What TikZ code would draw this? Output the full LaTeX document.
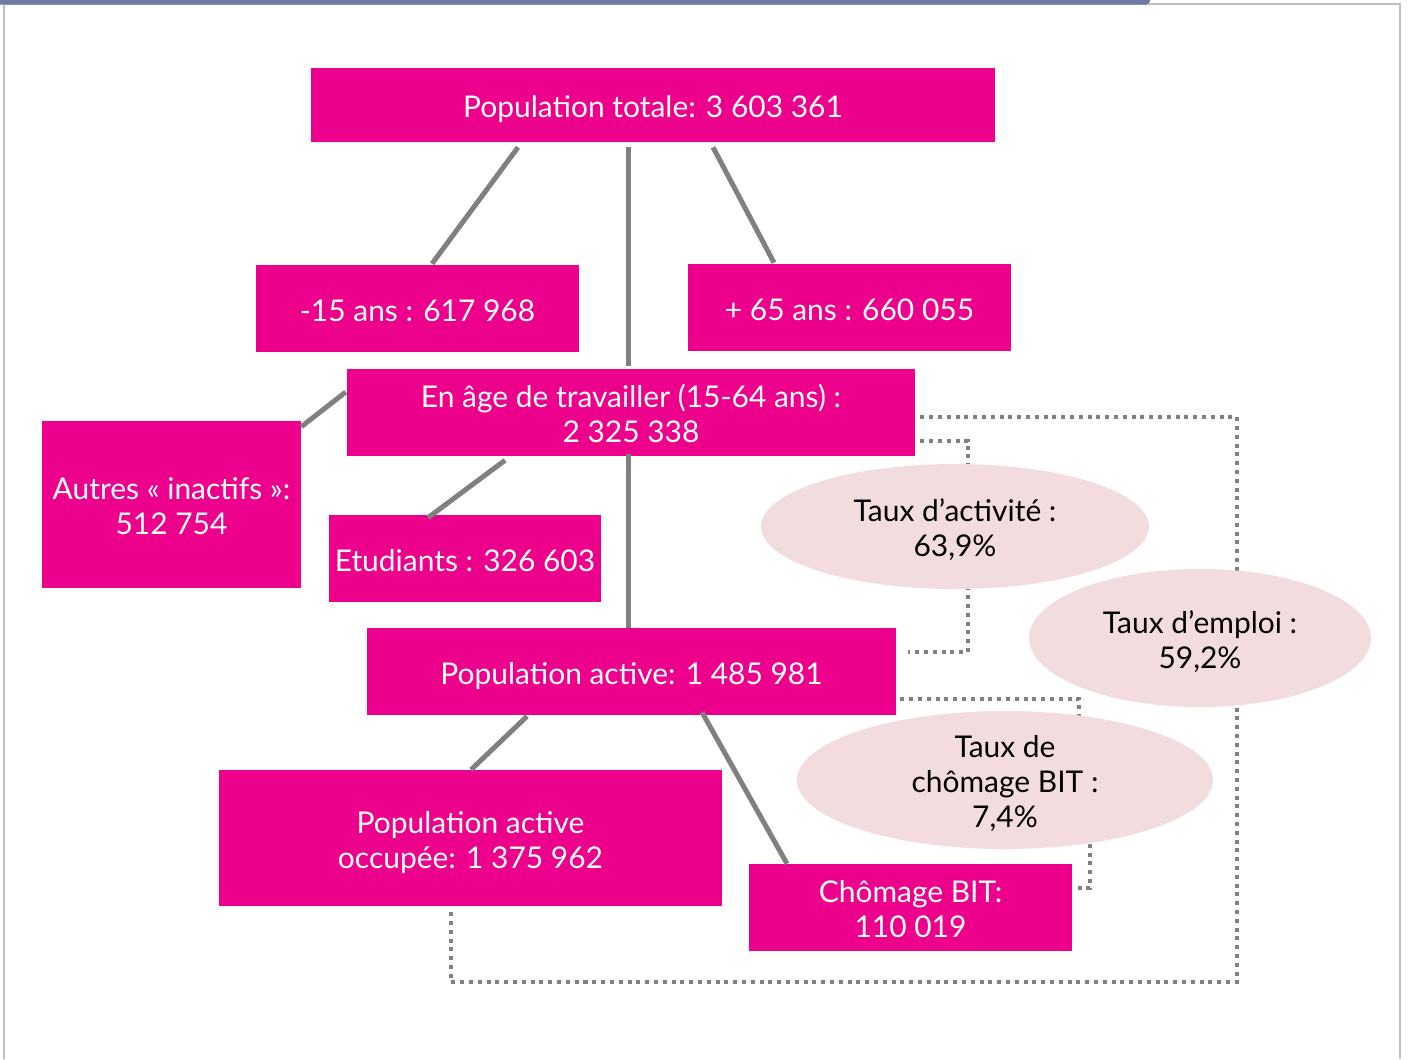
\documentclass[tikz,border=0pt]{standalone}
\usepackage{fontspec}
\setmainfont{Lato}
\usetikzlibrary{shapes.geometric,calc}
\definecolor{fuchsia}{HTML}{EC008C}
\definecolor{rosepale}{HTML}{F2DCDE}
\definecolor{liengris}{HTML}{808080}
\definecolor{barre}{HTML}{6F7AA6}
\definecolor{cadre}{HTML}{C0C0C0}
\begin{document}
\begin{tikzpicture}[x=0.25mm,y=-0.25mm,
    lignes/.style={execute at begin node={\rule{0pt}{\dimexpr22.5pt+\numexpr#1-1\relax\dimexpr24.9pt\relax\relax}}},
    texte/.style={align=center,inner sep=0pt,
      font=\fontsize{21.3}{24.9}\selectfont,lignes=1,
      execute at end node={\rule[-4.5pt]{0pt}{4.5pt}}},
    box/.style={texte,fill=fuchsia,text=white},
    bubble/.style={texte,ellipse,fill=rosepale,text=black},
    link/.style={liengris,line width=1.25mm},
    ratio/.style={liengris,line width=1mm,dash pattern=on 1mm off 1.2mm}]
    \useasboundingbox (0,0) rectangle (1408,1059);
    % cadre
    \draw[cadre,line width=0.4mm] (4,1059) -- (4,4) -- (1400,4) -- (1400,1059);
    \fill[barre,rounded corners=1mm] (-10,-10) rectangle (1150,4.5);

    % effectifs
    \node[box,minimum width=171mm,minimum height=18.5mm] (total) at (653,105) {Population totale: 3 603 361};
    \node[box,minimum width=80.75mm,minimum height=21.75mm] (moins15) at (417.5,308.5) {-15 ans : 617 968};
    \node[box,minimum width=80.75mm,minimum height=21.75mm] (plus65) at (849.5,307.5) {+ 65 ans : 660 055};
    \node[box,lignes=2,minimum width=142mm,minimum height=21.75mm] (age) at (631,412.5) {En âge de travailler (15-64 ans) :\\2 325 338};
    \node[box,lignes=2,minimum width=64.75mm,minimum height=41.75mm] (autres) at (171.5,504.5) {Autres « inactifs »:\\512 754};
    \node[box,minimum width=68mm,minimum height=21.75mm] (etud) at (465,558.5) {Etudiants : 326 603};
    \node[box,minimum width=132.25mm,minimum height=21.75mm] (active) at (631.5,671.5) {Population active: 1 485 981};
    \node[box,lignes=2,minimum width=125.75mm,minimum height=34mm] (occupee) at (470.5,838) {Population active\\occupée: 1 375 962};
    \node[box,lignes=2,minimum width=80.75mm,minimum height=21.75mm] (chomage) at (910.5,907.5) {Chômage BIT:\\110 019};

    \draw[link] ($(total.south)+(-135,5)$) -- ($(moins15.north)+(14.5,-1)$);
    \draw[link] ($(total.south)+(-25,5)$) -- ($(age.north)+(-3,-3)$);
    \draw[link] ($(total.south)+(60,5)$) -- ($(plus65.north)+(-75.5,-1)$);
    \draw[link] ($(age.west)+(-1,-20.5)$) -- ($(autres.north east)+(0,6)$);
    \draw[link] ($(age.south)+(-126,4)$) -- ($(etud.north)+(-37,3)$);
    \draw[link] ($(age.south)+(-3,-2)$) -- (active.north -| 628,0);
    \draw[link] ($(active.south)+(-104.5,1)$) -- ($(occupee.north)+(0.5,0)$);
    \draw[link] ($(active.south)+(70.5,-3)$) -- ($(chomage.north)+(-123.5,0)$);

    % taux
    \coordinate (c1) at (1237,982);
    \coordinate (c2) at (968,652);
    \coordinate (c3) at (1079,780);
    \coordinate (c4) at (1090,780);
    \draw[ratio] ($(age.east)+(5,4.5)$) -| (c1) -| ($(occupee.south)+(-19.5,4)$);
    \draw[ratio] ($(age.east)+(5,28)$) -| (c2) -- ($(active.east)+(12,-19.5)$);
    \draw[ratio] ($(active.east)+(4,27.5)$) -| (c3) -- (c4) |- ($(chomage.east)+(6,-19.5)$);

    \node[bubble,lignes=2,minimum width=97mm,minimum height=31.25mm] (tact) at (955,526.5) {Taux d’activité :\\63,9\%};
    \node[bubble,lignes=2,minimum width=85.5mm,minimum height=34.5mm] (temploi) at (1200,638) {Taux d’emploi :\\59,2\%};
    \node[bubble,lignes=3,inner ysep=-2mm,minimum width=104mm,minimum height=34.5mm] (tchom) at (1005,780) {Taux de\\chômage BIT :\\7,4\%};
\end{tikzpicture}
\end{document}
